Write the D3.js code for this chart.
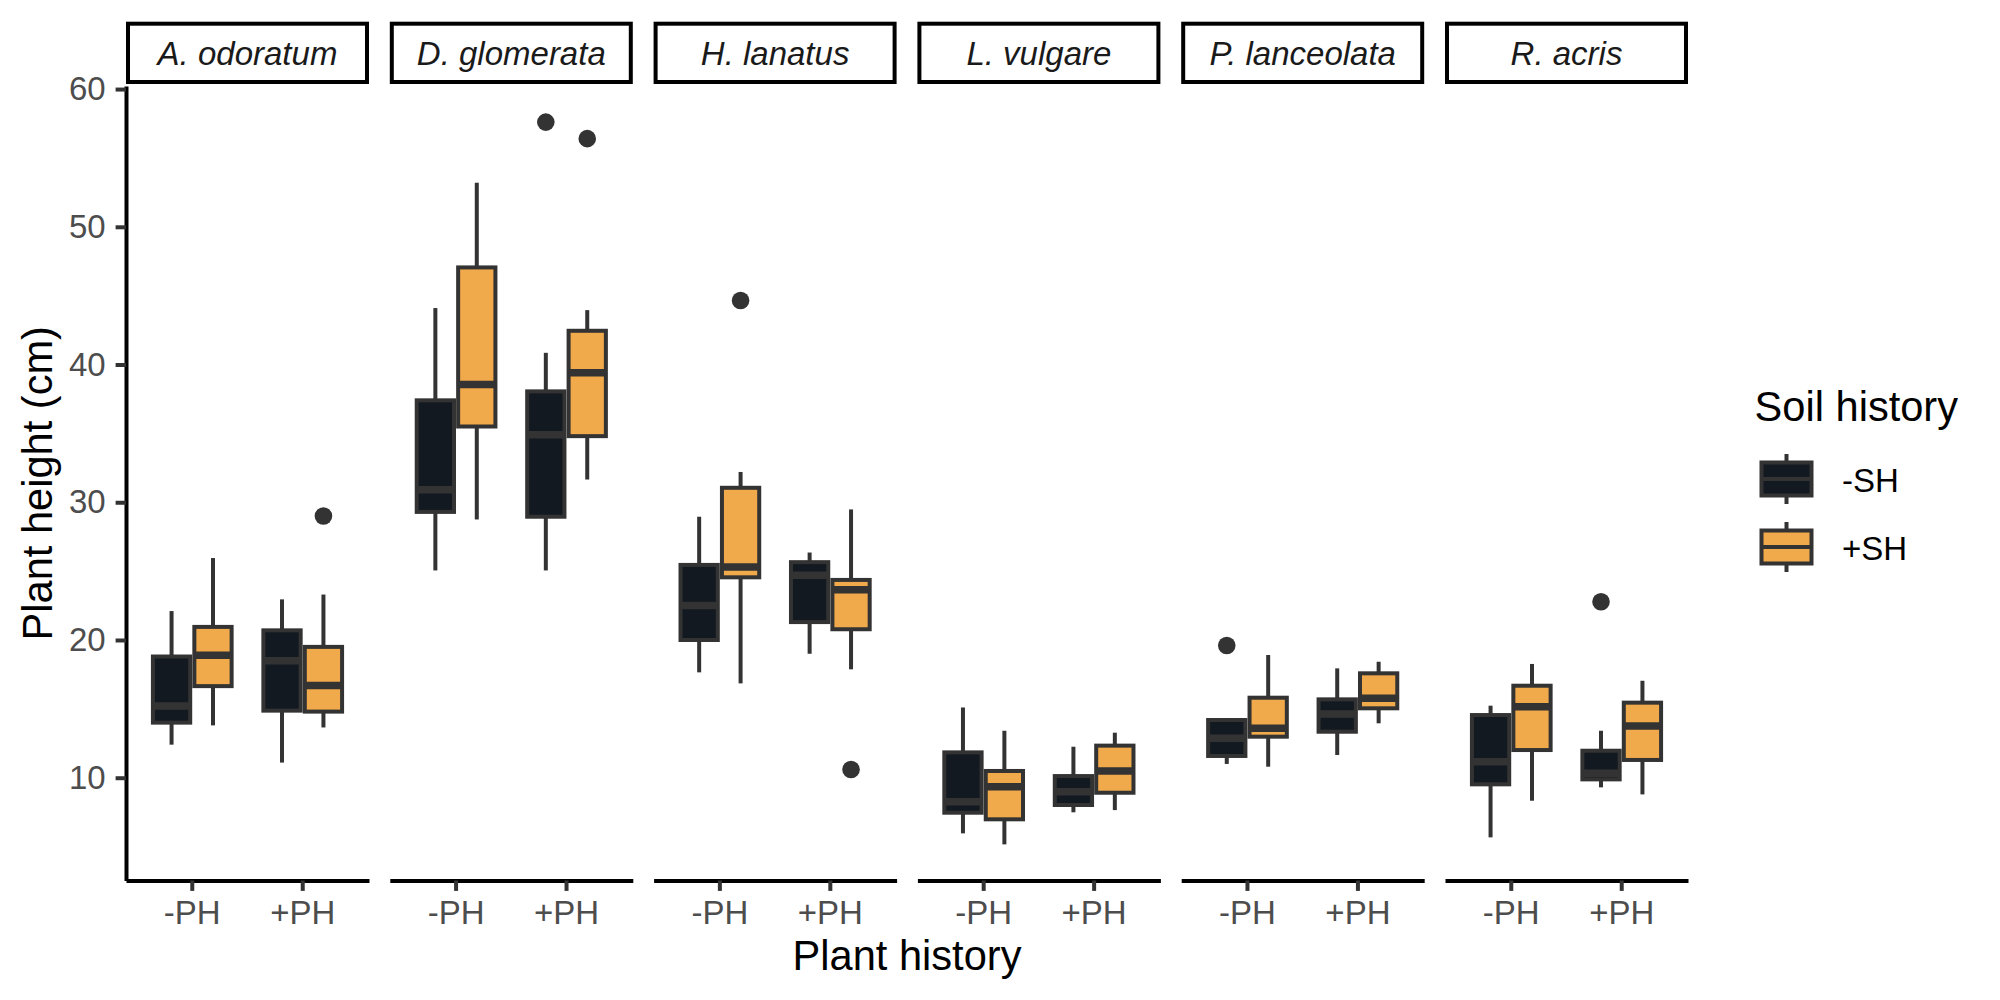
<!DOCTYPE html>
<html>
<head>
<meta charset="utf-8">
<script src="https://cdn.jsdelivr.net/npm/d3@7"></script>
<style>
  html, body { margin: 0; padding: 0; background: #ffffff; }
  svg { display: block; font-family: "Liberation Sans", Arial, Helvetica, sans-serif; }
</style>
</head>
<body>
<svg id="chart" width="2000" height="1000"></svg>
<script>
// ---------------- data ----------------
const species = ["A. odoratum", "D. glomerata", "H. lanatus", "L. vulgare", "P. lanceolata", "R. acris"];
const plantHistory = ["-PH", "+PH"];
const soilHistory = ["-SH", "+SH"];
const yTicks = [10, 20, 30, 40, 50, 60];

// box statistics, ordered species x plantHistory x soilHistory
// (-PH -SH, -PH +SH, +PH -SH, +PH +SH for each species)
const whiskerLow  = [12.4, 13.8, 11.1, 13.65,  25.05, 28.75, 25.05, 31.65,  17.65, 16.85, 19.0, 17.87,  5.96, 5.16, 7.49, 7.65,  11.0, 10.8, 11.65, 13.95,  5.67, 8.33, 9.3, 8.79];
const lowerHinge  = [14.0, 16.65, 14.87, 14.8,  29.3, 35.5, 28.95, 34.8,  20.0, 24.55, 21.3, 20.78,  7.46, 6.98, 8.02, 8.91,  11.58, 12.98, 13.34, 15.04,  9.52, 12.01, 9.88, 11.29];
const medians     = [15.2, 18.9, 18.5, 16.7,  30.9, 38.55, 34.9, 39.4,  22.5, 25.3, 24.7, 23.65,  8.25, 9.35, 8.98, 10.49,  12.86, 13.59, 14.63, 15.77,  11.16, 15.16, 10.32, 13.76];
const upperHinge  = [18.8, 20.95, 20.7, 19.5,  37.4, 47.05, 38.05, 42.45,  25.45, 31.05, 25.65, 24.36,  11.84, 10.49, 10.12, 12.33,  14.19, 15.81, 15.69, 17.58,  14.55, 16.68, 11.96, 15.45];
const whiskerHigh = [22.1, 25.95, 22.95, 23.3,  44.1, 53.2, 40.85, 43.95,  28.95, 32.2, 26.35, 29.48,  15.1, 13.41, 12.25, 13.27,  14.3, 18.91, 17.94, 18.42,  15.23, 18.26, 13.41, 17.04];

// outliers: group index (into the arrays above) and value
const outlierGroup  = [3, 6, 7, 9, 11, 16, 22];
const outlierValues = [29.0, 57.6, 56.4, 44.65, 10.6, 19.6, 22.78];

const fillColors = { "-SH": "#121920", "+SH": "#F0A94B" };

// ---------------- layout ----------------
const svg = d3.select("#chart");
const W = 2000, H = 1000;
svg.append("rect").attr("width", W).attr("height", H).attr("fill", "#ffffff");

const plotLeft = 126, plotRight = 1688, plotTop = 86, plotBottom = 880.5;
const outline = "#333333";
const tickFont = 33, titleFont = 41.6;

// groups table built from arrays
const groups = [];
species.forEach((sp, si) => {
  plantHistory.forEach((ph, pi) => {
    soilHistory.forEach((sh, hi) => {
      const i = si * 4 + pi * 2 + hi;
      groups.push({ sp, ph, sh, lo: whiskerLow[i], q1: lowerHinge[i], med: medians[i], q3: upperHinge[i], hi: whiskerHigh[i] });
    });
  });
});
const outliers = outlierGroup.map((g, k) => ({ ...groups[g], v: outlierValues[k] }));

// y scale with 5% expansion like ggplot
const allVals = whiskerLow.concat(whiskerHigh, outlierValues);
const yMin = d3.min(allVals), yMax = d3.max(allVals);
const pad = (yMax - yMin) * 0.05;
const y = d3.scaleLinear().domain([yMin - pad, yMax + pad]).range([plotBottom, plotTop]);

// facet scale
const facet = d3.scaleBand().domain(species).range([plotLeft, plotRight]).paddingInner(20.8 / 263.8).paddingOuter(0);
const pw = facet.bandwidth();
// x within each panel (ggplot discrete expansion 0.6)
const xPH = d3.scaleBand().domain(plantHistory).range([0, pw]).paddingInner(0.25).paddingOuter(0.225);
const xSH = d3.scaleBand().domain(soilHistory).range([0, xPH.bandwidth()]).padding(0);
const boxW = xSH.bandwidth() * 0.9;

// ---------------- panels ----------------
species.forEach((sp, si) => {
  const g = svg.append("g").attr("transform", `translate(${facet(sp)},0)`);

  // strip
  const strip = g.append("g");
  strip.append("rect")
    .attr("x", 2).attr("y", 23.7)
    .attr("width", pw - 4).attr("height", 58.3)
    .attr("fill", "#ffffff").attr("stroke", "#000000").attr("stroke-width", 4);
  strip.append("text")
    .attr("x", pw / 2).attr("y", 64.6)
    .attr("text-anchor", "middle")
    .attr("font-size", tickFont).attr("font-style", "italic")
    .attr("fill", "#1A1A1A")
    .text(sp);

  // x axis
  const xAxis = d3.axisBottom(xPH).tickSize(10.4).tickSizeOuter(0).tickPadding(9.5);
  const ax = g.append("g").attr("transform", `translate(0,${plotBottom})`).call(xAxis);
  ax.select(".domain").attr("stroke", "#000000").attr("stroke-width", 4);
  ax.selectAll(".tick line").attr("stroke", outline).attr("stroke-width", 4);
  ax.selectAll(".tick text").attr("font-size", tickFont).attr("fill", "#4D4D4D")
    .attr("font-family", "'Liberation Sans', Arial, sans-serif");

  // boxes
  const data = groups.filter(d => d.sp === sp);
  const bg = g.selectAll("g.box").data(data).join("g").attr("class", "box");
  const cx = d => xPH(d.ph) + xSH(d.sh) + xSH.bandwidth() / 2;

  // whiskers
  bg.append("line")
    .attr("x1", cx).attr("x2", cx)
    .attr("y1", d => y(d.q3)).attr("y2", d => y(d.hi))
    .attr("stroke", outline).attr("stroke-width", 4);
  bg.append("line")
    .attr("x1", cx).attr("x2", cx)
    .attr("y1", d => y(d.q1)).attr("y2", d => y(d.lo))
    .attr("stroke", outline).attr("stroke-width", 4);
  // box
  bg.append("rect")
    .attr("x", d => cx(d) - boxW / 2).attr("width", boxW)
    .attr("y", d => y(d.q3)).attr("height", d => y(d.q1) - y(d.q3))
    .attr("fill", d => fillColors[d.sh])
    .attr("stroke", outline).attr("stroke-width", 4);
  // median
  bg.append("line")
    .attr("x1", d => cx(d) - boxW / 2).attr("x2", d => cx(d) + boxW / 2)
    .attr("y1", d => y(d.med)).attr("y2", d => y(d.med))
    .attr("stroke", outline).attr("stroke-width", 7.5);

  // outliers
  g.selectAll("circle.out").data(outliers.filter(d => d.sp === sp)).join("circle")
    .attr("class", "out")
    .attr("cx", cx).attr("cy", d => y(d.v)).attr("r", 8.8)
    .attr("fill", outline);
});

// y axis
const yAxis = d3.axisLeft(y).tickValues(yTicks).tickSize(10.4).tickSizeOuter(0).tickPadding(10).tickFormat(d3.format("d"));
const ay = svg.append("g").attr("transform", `translate(${plotLeft},0)`).call(yAxis);
ay.select(".domain").attr("stroke", "#000000").attr("stroke-width", 4);
ay.selectAll(".tick line").attr("stroke", outline).attr("stroke-width", 4);
ay.selectAll(".tick text").attr("font-size", tickFont).attr("fill", "#4D4D4D")
  .attr("font-family", "'Liberation Sans', Arial, sans-serif");

// axis titles
svg.append("text")
  .attr("transform", `translate(51.5,${(plotTop + plotBottom) / 2}) rotate(-90)`)
  .attr("text-anchor", "middle").attr("font-size", titleFont).attr("fill", "#000000")
  .text("Plant height (cm)");
svg.append("text")
  .attr("x", (plotLeft + plotRight) / 2).attr("y", 970)
  .attr("text-anchor", "middle").attr("font-size", titleFont).attr("fill", "#000000")
  .text("Plant history");

// ---------------- legend ----------------
const legend = svg.append("g");
legend.append("text")
  .attr("x", 1754.6).attr("y", 421)
  .attr("font-size", titleFont).attr("fill", "#000000")
  .text("Soil history");
const keyY = d3.scaleBand().domain(soilHistory).range([445, 581]);
const keyCx = 1786.5, keyBoxW = 50;
soilHistory.forEach(sh => {
  const cy = keyY(sh) + keyY.bandwidth() / 2;
  const k = legend.append("g");
  k.append("line").attr("x1", keyCx).attr("x2", keyCx).attr("y1", cy - 25).attr("y2", cy + 25)
    .attr("stroke", outline).attr("stroke-width", 4);
  k.append("rect").attr("x", keyCx - keyBoxW / 2).attr("width", keyBoxW)
    .attr("y", cy - 16.5).attr("height", 33)
    .attr("fill", fillColors[sh]).attr("stroke", outline).attr("stroke-width", 4);
  k.append("line").attr("x1", keyCx - keyBoxW / 2).attr("x2", keyCx + keyBoxW / 2)
    .attr("y1", cy).attr("y2", cy)
    .attr("stroke", outline).attr("stroke-width", 4);
  legend.append("text")
    .attr("x", 1842).attr("y", cy + 12.5)
    .attr("font-size", tickFont).attr("fill", "#000000")
    .text(sh);
});
</script>
</body>
</html>
